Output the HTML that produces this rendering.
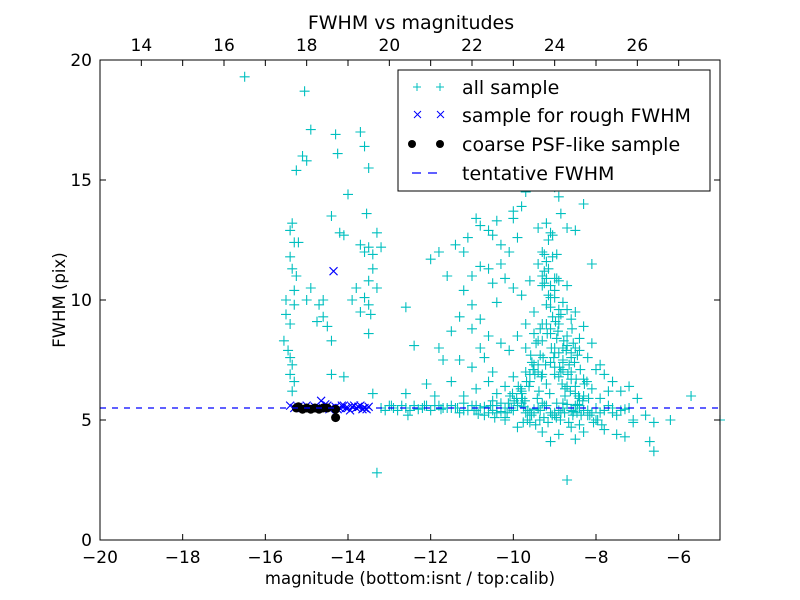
<!DOCTYPE html>
<html><head><meta charset="utf-8"><style>
body{margin:0;background:#fff;}
svg{display:block;font-family:"DejaVu Sans","Liberation Sans",sans-serif;}
</style></head><body>
<svg id="chart" width="800" height="600" viewBox="0 0 800 600">
<rect x="0" y="0" width="800" height="600" fill="#fff"/>
<text x="411" y="29" font-size="19" text-anchor="middle">FWHM vs magnitudes</text>
<g id="marks"></g>
<rect x="100" y="60" width="620" height="480" fill="none" stroke="#000" stroke-width="1"/>
<g id="axes"></g>
<text x="410" y="584" font-size="16.5" text-anchor="middle">magnitude (bottom:isnt / top:calib)</text>
<text x="65" y="300" font-size="16.5" text-anchor="middle" transform="rotate(-90 65 300)">FWHM (pix)</text>
<g>
<rect x="398" y="70" width="312" height="121" fill="#fff" stroke="#000" stroke-width="1"/>
<g>
<path d="M413 87h8M417 83v8M436 87h8M440 83v8" stroke="#00bfbf" stroke-width="1"/>
<text x="462" y="94" font-size="19">all sample</text></g>
<g>
<path d="M414 111l7 7M421 111l-7 7M437 111l7 7M444 111l-7 7" stroke="#0000ff" stroke-width="1"/>
<text x="462" y="122" font-size="19">sample for rough FWHM</text></g>
<g>
<circle cx="412" cy="144" r="4" fill="#000"/><circle cx="440" cy="144" r="4" fill="#000"/>
<text x="462" y="151" font-size="19">coarse PSF-like sample</text></g>
<g>
<path d="M412 173h9M428 173h9" stroke="#0000ff" stroke-width="1.2"/>
<text x="462" y="180" font-size="19">tentative FWHM</text></g>
</g>
</svg>
<script>
const xTicks=[-20,-18,-16,-14,-12,-10,-8,-6];
const topTicks=[14,16,18,20,22,24,26];
const yTicks=[0,5,10,15,20];
const topOffset=33;
const tentativeFWHM=5.5;
const allX=[-16.5,-15.05,-14.9,-15.1,-15.0,-15.25,-14.3,-14.25,-14.0,-14.4,-15.35,-15.4,-15.3,-15.2,-15.4,-15.35,-15.25,-15.3,-15.5,-15.3,-15.5,-15.4,-15.55,-15.45,-15.4,-15.35,-15.4,-15.3,-15.35,-15.0,-14.9,-14.7,-14.6,-14.5,-14.75,-14.6,-14.4,-14.2,-14.1,-13.7,-13.6,-13.5,-13.55,-13.7,-13.5,-13.6,-13.4,-13.3,-13.2,-13.4,-13.5,-13.8,-13.6,-13.5,-13.7,-13.5,-13.9,-13.3,-13.45,-13.4,-13.3,-12.6,-12.4,-12.6,-12.1,-11.9,-14.4,-14.1,
-11.2,-11.0,-11.3,-11.4,-11.2,-11.1,-10.9,-10.8,-10.6,-10.5,-10.4,-10.0,-9.8,-9.7,-9.6,-9.4,-9.2,-9.0,-8.9,-8.7,-8.5,-8.3,-8.1,-10.0,-9.9,-10.3,-10.1,-11.8,-11.6,-12.0,-11.0,-10.8,-10.6,-10.3,-10.5,-10.2,-10.0,-9.8,-9.6,-9.4,-9.3,-9.1,-9.0,-8.9,-9.2,-9.5,-9.7,-10.4,-10.8,-11.0,-11.5,-11.8,-11.3,-11.0,-10.7,-10.5,-10.3,-10.1,-9.9,-9.7,-9.5,-9.3,-9.1,-8.9,-8.7,-8.6,-8.8,-8.6,-8.4,-8.2,-8.0,-7.8,-7.6,-7.4,-7.2,-7.0,-6.8,-6.6,-6.7,-6.6,-6.2,-5.7,-5.0,-9.0,-8.9,-9.2,-9.4,-9.6,-9.8,-10.0,-10.2,-10.4,-10.6,-10.9,-11.2,-8.7,-8.5,-8.3,-8.1,-7.9,-7.7,-8.6,-8.8,-9.0,-9.1,-8.95,-9.05,-9.15,-9.3,-9.25,-8.8,-8.7,-8.5,-8.4,-8.3,-8.1,-7.9,-8.2,-8.0,-8.4,-8.6,-8.9,-9.1,-9.3,-9.6,-9.9,-10.2,-8.5,-8.3,-7.8,-7.5,-7.3,-7.1,-8.7,-10.9,-9.5,-9.0,-8.8,-8.4,-7.6,-7.2,-8.75,-8.85,-8.65,-8.55,-9.35,-9.45,-9.55,-10.6,-10.8,-11.2,-11.5,-11.7,
-9.05,-8.95,-9.15,-8.85,-9.25,-9.1,-8.9,-9.0,-8.8,-9.2,-8.7,-8.6,-9.3,-9.4,-8.5,-8.45,-8.75,-9.35,
-9.12,-9.02,-8.92,-8.82,-8.72,-8.62,-8.52,-8.42,-8.32,-8.22,-9.22,-9.32,-9.42,-9.52,-9.62,-9.72,-9.82,-9.92,-10.02,-10.12,
-9.08,-8.98,-8.88,-8.78,-8.68,-8.58,-8.48,-8.38,-8.28,-8.18,-9.18,-9.28,-9.38,-9.48,-9.58,-9.68,-9.78,-9.88,-9.98,-10.08,
-9.1,-9.0,-8.9,-8.8,-8.7,-8.6,-8.5,-8.4,-8.3,-8.2,-9.2,-9.3,-9.4,-9.5,-9.6,-9.7,-9.8,-9.9,-10.3,-10.5,
-9.06,-8.96,-8.86,-8.76,-8.66,-8.56,-9.16,-9.26,-9.36,-9.46,-8.46,-8.36,-8.06,-7.96,-7.86,-9.56,-9.66,-9.76,-10.2,-10.4,
-9.2,-9.1,-9.0,-8.95,-8.85,-9.05,-9.15,-9.25,-9.3,-9.0,-8.9,-9.1,
-13.2,-13.0,-12.8,-12.6,-12.4,-12.2,-12.0,-11.8,-11.6,-11.4,-11.2,-11.0,-10.8,-10.6,-10.4,-10.2,-10.0,-9.8,-9.6,-9.4,-9.2,-9.0,-8.8,-8.6,-8.4,-8.2,-8.0,-7.8,-12.9,-12.5,-12.1,-11.7,-11.3,-10.9,-10.5,-10.1,-9.7,-9.3,-8.9,-8.5,-8.1,-7.6,-7.4,-10.7,-11.5,-9.9,
-13.1,-12.7,-12.3,-11.9,-11.5,-11.1,-10.7,-10.3,-9.9,-9.5,-9.1,-8.7,-8.3,-7.9,-12.95,-12.55,-12.15,-11.75,-11.35,-10.95,-10.55,-10.15,-9.75,-9.35,-8.95,-8.55,-8.15,-7.7,-10.85,-10.45,-10.05,-9.65,-9.25,-8.85,-8.45,-7.5,-7.3,-7.1];
const allY=[19.3,18.7,17.1,16.0,15.8,15.4,16.9,16.1,14.4,13.5,13.2,12.9,12.4,12.4,11.8,11.3,11.0,10.4,10.0,9.8,9.4,9.0,8.3,7.9,7.6,7.3,6.9,6.6,6.2,10.0,10.5,9.8,9.3,8.9,9.1,10.0,8.3,12.8,12.7,17.0,16.4,15.5,13.6,12.3,12.2,12.0,11.9,12.8,12.2,11.3,10.8,10.5,10.1,9.8,9.5,8.6,10.0,10.5,9.4,6.1,2.8,9.7,8.1,6.1,6.5,6.0,6.9,6.8,
10.4,9.8,9.3,12.3,12.0,12.6,13.4,13.1,12.9,12.7,13.3,13.7,13.9,14.5,15.0,13.0,13.2,14.7,14.3,13.0,12.9,14.0,11.5,13.4,12.6,12.3,12.0,12.0,11.0,11.7,11.0,11.4,11.3,11.5,10.7,10.9,10.5,10.2,10.8,11.5,11.0,10.6,10.1,9.6,9.8,9.5,9.0,9.9,9.2,8.8,8.7,8.0,7.5,7.2,7.6,7.0,8.2,7.9,8.5,8.0,8.6,8.3,8.8,9.0,8.5,9.2,8.0,7.6,7.9,7.6,7.1,6.9,6.6,6.2,6.4,5.9,5.2,4.9,4.1,3.7,5.0,6.0,5.0,7.2,6.8,6.5,7.0,6.6,6.2,6.8,6.4,6.1,6.6,6.3,6.0,6.4,6.1,6.7,6.3,5.9,6.2,7.0,7.5,7.8,7.4,8.4,9.3,10.2,12.0,11.2,9.9,10.6,9.5,8.4,8.9,8.2,7.3,5.2,5.0,4.8,4.7,4.4,4.1,4.5,4.9,4.7,5.0,4.2,4.5,4.6,4.4,4.3,4.9,2.5,5.4,5.3,5.3,5.7,5.5,5.3,5.5,6.0,7.0,7.3,8.2,7.7,8.2,7.4,8.5,8.0,5.7,6.6,7.5,
11.8,10.9,12.5,9.4,10.7,8.6,7.8,6.9,7.1,9.0,8.1,6.7,6.9,7.3,6.4,7.7,6.3,8.8,
6.1,7.6,8.7,6.5,7.9,6.2,7.4,6.0,5.8,6.6,7.3,6.8,5.9,7.1,6.4,5.8,6.3,5.9,6.1,5.7,
8.0,9.1,7.2,8.3,6.9,8.8,6.7,7.1,6.5,5.9,8.6,7.6,6.2,6.9,7.7,6.6,5.9,6.4,5.8,6.0,
9.7,10.4,9.3,7.4,9.6,7.8,8.0,5.9,6.0,5.4,10.9,9.0,8.3,7.3,6.9,7.0,6.1,5.6,5.7,5.8,
5.2,5.1,5.0,5.3,4.9,5.2,4.9,5.1,5.0,4.8,5.3,5.2,4.9,5.0,4.8,5.2,5.0,4.9,5.1,5.3,
11.6,12.8,10.9,11.9,13.6,12.7,11.3,11.9,10.6,8.0,10.8,10.1,
5.5,5.6,5.4,5.5,5.6,5.5,5.4,5.6,5.5,5.5,5.4,5.6,5.5,5.3,5.6,5.5,5.4,5.7,5.3,5.5,5.6,5.2,5.5,5.4,5.6,5.3,5.5,5.4,5.5,5.4,5.6,5.5,5.3,5.6,5.4,5.5,5.3,5.7,5.4,5.6,5.3,5.5,5.4,5.2,5.6,5.7,5.4,5.6,
5.45,5.6,5.5,5.4,5.55,5.35,5.6,5.45,5.3,5.65,5.4,5.3,5.6,5.2,5.6,5.45,5.5,5.4,5.6,5.3,5.55,5.4,5.7,5.35,5.2,5.6,5.25,5.1,5.5,5.4,5.6,5.3,5.65,5.2,5.45,5.0,5.3,5.4];
const roughX=[-15.4,-15.3,-15.2,-15.1,-15.0,-14.9,-14.8,-14.7,-14.65,-14.6,-14.5,-14.4,-14.35,-14.3,-14.2,-14.1,-14.0,-13.9,-13.8,-13.7,-13.6,-13.5,-14.25,-14.05,-13.85,-13.65,-14.45,-14.15,-13.95,-13.75,-13.55,-14.55];
const roughY=[5.6,5.5,5.55,5.5,5.6,5.5,5.55,5.5,5.8,5.5,5.6,5.5,11.2,5.55,5.5,5.6,5.5,5.55,5.5,5.6,5.5,5.55,5.45,5.5,5.6,5.45,5.45,5.6,5.4,5.55,5.45,5.65];
const psfX=[-15.25,-15.2,-15.1,-15.0,-14.9,-14.8,-14.7,-14.6,-14.5,-14.3,-14.3];
const psfY=[5.5,5.55,5.45,5.5,5.45,5.5,5.45,5.5,5.5,5.45,5.1];

const X0=100,X1=720,Y0=540,Y1=60;
const xScale=v=>X0+(v-(-20))/15*(X1-X0);
const yScale=v=>Y0-(v/20)*(Y0-Y1);
const NS='http://www.w3.org/2000/svg';
const marks=document.getElementById('marks');
const axes=document.getElementById('axes');
function mk(tag,attrs,parent){const e=document.createElementNS(NS,tag);for(const k in attrs)e.setAttribute(k,attrs[k]);parent.appendChild(e);return e;}

let d='';
for(let i=0;i<allX.length;i++){const x=xScale(allX[i]),y=yScale(allY[i]);if(x<X0||x>X1)continue;d+=`M${x-5} ${y}h10M${x} ${y-5}v10`;}
const pAll=mk('path',{d:d,stroke:'#00bfbf','stroke-width':1.1,fill:'none'},marks);


d='';
for(let i=0;i<roughX.length;i++){const x=xScale(roughX[i]),y=yScale(roughY[i]);d+=`M${x-4} ${y-4}l8 8M${x+4} ${y-4}l-8 8`;}
const pR=mk('path',{d:d,stroke:'#0000ff','stroke-width':1.1,fill:'none'},marks);


for(let i=0;i<psfX.length;i++){
const c=mk('circle',{cx:xScale(psfX[i]),cy:yScale(psfY[i]),r:4.5,fill:'#000'},marks);


}
const tl=mk('line',{x1:X0,x2:X1,y1:yScale(tentativeFWHM),y2:yScale(tentativeFWHM),stroke:'#0000ff','stroke-width':1.2,'stroke-dasharray':'6,6'},marks);



xTicks.forEach(t=>{const x=xScale(t);
mk('path',{d:`M${x} ${Y0}v-6M${x} ${Y1}v6`,stroke:'#000'},axes);
const tx=mk('text',{x:x,y:Y0+23,'font-size':17,'text-anchor':'middle'},axes);tx.textContent=(t<0?'\u2212':'')+Math.abs(t);

});
topTicks.forEach(t=>{const x=xScale(t-topOffset);
mk('path',{d:`M${x} ${Y1}v6`,stroke:'#000'},axes);
const tx=mk('text',{x:x,y:Y1-9,'font-size':17,'text-anchor':'middle'},axes);tx.textContent=t;

});
yTicks.forEach(t=>{const y=yScale(t);
mk('path',{d:`M${X0} ${y}h6M${X1} ${y}h-6`,stroke:'#000'},axes);
const tx=mk('text',{x:X0-8,y:y+6,'font-size':17,'text-anchor':'end'},axes);tx.textContent=t;

});
</script>
</body></html>
